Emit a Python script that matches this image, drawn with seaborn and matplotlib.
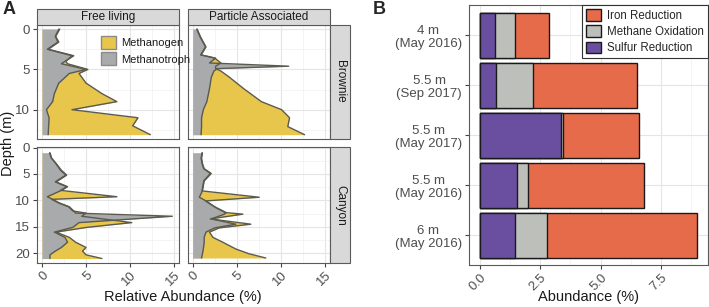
import numpy as np
import matplotlib
import matplotlib.pyplot as plt
from matplotlib.patches import Patch, Rectangle
from matplotlib.ticker import MultipleLocator
import seaborn as sns
import pandas as pd

### data panel A (depth in m, relative abundance in %)

brownie_fl_depth = [0, 0.9, 1.6, 2.5, 3.3, 4.0, 4.3, 5.0, 5.5, 6.7, 8.0, 9.0, 10.0, 11.0, 12.0, 13.1]
brownie_fl_mtroph = [2.0, 1.55, 1.9, 0.7, 3.6, 2.6, 2.2, 5.0, 3.1, 1.9, 1.4, 1.2, 0.5, 0.8, 0.75, 0.7]
brownie_fl_mgen = [1.9, 1.5, 1.8, 0.6, 3.4, 2.7, 2.9, 5.2, 4.2, 5.0, 6.8, 8.5, 3.4, 10.9, 10.3, 12.3]

brownie_pa_depth = [0, 1, 2.2, 3.2, 3.6, 4.2, 4.6, 4.9, 5.2, 6.0, 7.4, 9.0, 10.0, 11.0, 12.1, 13.1]
brownie_pa_mtroph = [0.5, 0.9, 1.5, 0.95, 2.6, 1.9, 10.9, 2.8, 2.4, 2.1, 1.9, 1.6, 1.2, 1.0, 1.0, 0.95]
brownie_pa_mgen = [0.45, 0.85, 1.45, 0.9, 2.5, 3.2, 2.6, 2.6, 3.2, 4.2, 5.8, 7.8, 10.1, 11.0, 10.8, 12.7]

canyon_fl_depth = [1, 2, 3, 4.3, 5.2, 6.5, 7.4, 8.1, 9.3, 9.8, 10.5, 11.2, 12.0, 12.4, 13.0, 14.2,
                   15.1, 16.0, 17.0, 17.9, 18.9, 19.6, 20.3, 21]
canyon_fl_mtroph = [0.9, 1.1, 1.6, 2.2, 2.8, 1.6, 2.9, 2.2, 0.6, 1.2, 2.0, 3.1, 3.6, 3.8, 14.8, 4.2,
                    3.5, 1.4, 2.6, 2.9, 2.2, 1.5, 0.9, 0.9]
canyon_fl_mgen = [0.85, 1.05, 1.55, 2.1, 2.7, 1.5, 2.8, 2.1, 8.5, 1.1, 1.9, 3.0, 3.5, 5.0, 4.5, 10.2,
                  5.1, 1.6, 3.1, 3.8, 5.0, 4.6, 5.0, 6.8]

canyon_pa_depth = [1, 2, 3, 4, 4.9, 6.3, 8.2, 9.4, 10.1, 11.3, 12.3, 12.6, 13.5, 14.5, 15.2, 16.0,
                   17.0, 17.9, 19.2, 20.1, 20.9]
canyon_pa_mtroph = [1.1, 1.0, 1.1, 1.3, 2.1, 1.3, 1.1, 0.75, 1.5, 2.6, 3.8, 3.6, 2.1, 4.9, 2.5, 1.5,
                    1.3, 1.3, 1.2, 1.1, 1.0]
canyon_pa_mgen = [1.05, 0.95, 1.05, 1.25, 2.0, 1.25, 1.05, 7.55, 1.45, 2.55, 3.7, 5.7, 2.0, 6.6, 3.0, 1.9,
                  2.3, 3.4, 4.9, 6.4, 8.3]

### data panel B (abundance %)

samples = ["4 m\n(May 2016)", "5.5 m\n(Sep 2017)", "5.5 m\n(May 2017)", "5.5 m\n(May 2016)", "6 m\n(May 2016)"]
sulfur_red = [0.62, 0.66, 3.36, 1.52, 1.47]
methane_ox = [0.82, 1.56, 0.10, 0.47, 1.30]
iron_red = [1.43, 4.30, 3.15, 4.80, 6.24]

YEL = "#E8C64B"
GRY = "#A9AAAC"
LINE = "#5b5a4f"
ORANGE = "#E66B4A"
MGRAY = "#BDBFBA"
PURPLE = "#6A4FA0"
TXT = "#4d4d4d"
TICKSIZE = 9.5

sns.set_style("white")
plt.rcParams['font.family'] = ['Liberation Sans', 'DejaVu Sans']

fig = plt.figure(figsize=(7.09, 3.07), dpi=100)
W, H = 709.0, 307.0

def axpos(x0, x1, y0, y1):
	return [x0/W, 1-y1/H, (x1-x0)/W, (y1-y0)/H]

def grid_it(ax, xmaj, xmin, ymaj, ymin):
	ax.xaxis.set_major_locator(MultipleLocator(xmaj))
	ax.xaxis.set_minor_locator(MultipleLocator(xmin))
	ax.yaxis.set_major_locator(MultipleLocator(ymaj))
	ax.yaxis.set_minor_locator(MultipleLocator(ymin))
	ax.grid(which='major', color='#E5E5E5', lw=0.8)
	ax.grid(which='minor', color='#F0F0F0', lw=0.5)
	ax.set_axisbelow(True)
	for s in ax.spines.values():
		s.set_color('#5a5a5a')
		s.set_linewidth(0.8)
	ax.tick_params(which='major', length=3, color='#444444', labelsize=TICKSIZE, labelcolor=TXT, pad=2,
		bottom=True, left=True)
	ax.tick_params(which='minor', length=0)

panels = [
	("Brownie", "Free living", brownie_fl_depth, brownie_fl_mgen, brownie_fl_mtroph),
	("Brownie", "Particle Associated", brownie_pa_depth, brownie_pa_mgen, brownie_pa_mtroph),
	("Canyon", "Free living", canyon_fl_depth, canyon_fl_mgen, canyon_fl_mtroph),
	("Canyon", "Particle Associated", canyon_pa_depth, canyon_pa_mgen, canyon_pa_mtroph),
]
xcols = {"Free living": (37.2, 178.9), "Particle Associated": (187.9, 329.6)}
yrows = {"Brownie": (24.7, 138.7), "Canyon": (147.3, 262.5)}
ylims = {"Brownie": (13.6, -0.55), "Canyon": (21.75, -0.05)}

for site, frac, dep, mgen, mtroph in panels:
	x0, x1 = xcols[frac]
	y0, y1 = yrows[site]
	ax = fig.add_axes(axpos(x0, x1, y0, y1))
	df = pd.DataFrame({"depth": dep, "Methanogen": mgen, "Methanotroph": mtroph})
	ax.fill_betweenx(df["depth"], 0, df["Methanogen"], color=YEL, lw=0)
	sns.lineplot(data=df, x="Methanogen", y="depth", orient="y", color=LINE, lw=1.0, ax=ax)
	ax.fill_betweenx(df["depth"], 0, df["Methanotroph"], color=GRY, lw=0)
	sns.lineplot(data=df, x="Methanotroph", y="depth", orient="y", color=LINE, lw=1.0, ax=ax)
	ax.set_xlim(-0.55, 15.55)
	ax.set_ylim(*ylims[site])
	grid_it(ax, 5, 2.5, 5, 2.5)
	ax.set_xlabel("")
	ax.set_ylabel("")
	if site == "Brownie":
		ax.tick_params(axis='x', labelbottom=False, length=0)
	else:
		plt.setp(ax.get_xticklabels(), rotation=45, ha='right', rotation_mode='anchor')
	if frac != "Free living":
		ax.tick_params(axis='y', labelleft=False, length=0)
	if site == "Brownie":
		# top strip
		fig.patches.append(Rectangle((x0/W, 1-24.7/H), (x1-x0)/W, 16/H, transform=fig.transFigure,
			facecolor='#D9D9D9', edgecolor='#5a5a5a', lw=0.8))
		fig.text((x0+x1)/2/W, 1-16.7/H, frac, ha='center', va='center', fontsize=8.5, color='#1a1a1a')
	if frac == "Particle Associated":
		fig.patches.append(Rectangle((x1/W, 1-y1/H), 20/W, (y1-y0)/H, transform=fig.transFigure,
			facecolor='#D9D9D9', edgecolor='#5a5a5a', lw=0.8))
		fig.text((x1+10.5)/W, 1-(y0+y1)/2/H, site, ha='center', va='center', rotation=-90,
			fontsize=8.5, color='#1a1a1a')

leg_a = [Patch(facecolor=YEL, edgecolor='#8a8a8a', label='Methanogen'),
	Patch(facecolor=GRY, edgecolor='#8a8a8a', label='Methanotroph')]
fig.legend(handles=leg_a, loc='upper left', bbox_to_anchor=(93/W, 1-28/H), frameon=False,
	fontsize=8, handlelength=1.4, handleheight=1.4, handletextpad=0.4, labelspacing=0.35,
	borderpad=0.2, labelcolor='#1a1a1a')

fig.text(8/W, 1-143/H, "Depth (m)", rotation=90, ha='center', va='center', fontsize=10.5, color='#1a1a1a')
fig.text(183/W, 1-297/H, "Relative Abundance (%)", ha='center', va='center', fontsize=10.5, color='#1a1a1a')
fig.text(588/W, 1-297/H, "Abundance (%)", ha='center', va='center', fontsize=10.5, color='#1a1a1a')
fig.text(3/W, 1-10/H, "A", fontsize=13, fontweight='bold', ha='left', va='center')
fig.text(373/W, 1-10/H, "B", fontsize=13, fontweight='bold', ha='left', va='center')

### panel B

axb = fig.add_axes(axpos(469, 708, 5, 265))
dfb = pd.DataFrame({"sample": samples, "sulfur": sulfur_red, "methane": methane_ox, "iron": iron_red})
dfb["sm"] = dfb["sulfur"] + dfb["methane"]
dfb["total"] = dfb["sm"] + dfb["iron"]
sns.barplot(data=dfb, x="total", y="sample", color=ORANGE, saturation=1, width=0.9,
	edgecolor='#1a1a1a', linewidth=1.0, ax=axb)
sns.barplot(data=dfb, x="sm", y="sample", color=MGRAY, saturation=1, width=0.9,
	edgecolor='#1a1a1a', linewidth=1.0, ax=axb)
sns.barplot(data=dfb, x="sulfur", y="sample", color=PURPLE, saturation=1, width=0.9,
	edgecolor='#1a1a1a', linewidth=1.0, ax=axb)
axb.set_xlim(-0.45, 9.45)
axb.set_ylim(4.6, -0.6)
axb.xaxis.set_major_locator(MultipleLocator(2.5))
axb.xaxis.set_minor_locator(MultipleLocator(1.25))
axb.grid(which='major', color='#E5E5E5', lw=0.8)
axb.grid(which='minor', axis='x', color='#F0F0F0', lw=0.5)
axb.set_axisbelow(True)
for s in axb.spines.values():
	s.set_color('#5a5a5a')
	s.set_linewidth(0.8)
axb.tick_params(which='major', length=3, color='#444444', labelsize=TICKSIZE, labelcolor=TXT, pad=2,
	bottom=True, left=True)
axb.tick_params(which='minor', length=0)
axb.set_xticks([0, 2.5, 5.0, 7.5])
axb.set_xticklabels(["0.0", "2.5", "5.0", "7.5"])
plt.setp(axb.get_xticklabels(), rotation=45, ha='right', rotation_mode='anchor')
for t in axb.get_yticklabels():
	t.set_multialignment('center')
axb.set_ylabel("")
axb.set_xlabel("")

leg_b = [Patch(facecolor=ORANGE, edgecolor='#1a1a1a', label='Iron Reduction'),
	Patch(facecolor=MGRAY, edgecolor='#1a1a1a', label='Methane Oxidation'),
	Patch(facecolor=PURPLE, edgecolor='#1a1a1a', label='Sulfur Reduction')]
lg = axb.legend(handles=leg_b, loc='upper right', bbox_to_anchor=(1.0, 1.0), fontsize=8.3,
	handlelength=1.3, handleheight=1.2, handletextpad=0.5, labelspacing=0.3, borderpad=0.35,
	fancybox=False, framealpha=1, edgecolor='#333333', borderaxespad=0)
lg.get_frame().set_linewidth(0.8)

plt.savefig('out.png', dpi=100)
